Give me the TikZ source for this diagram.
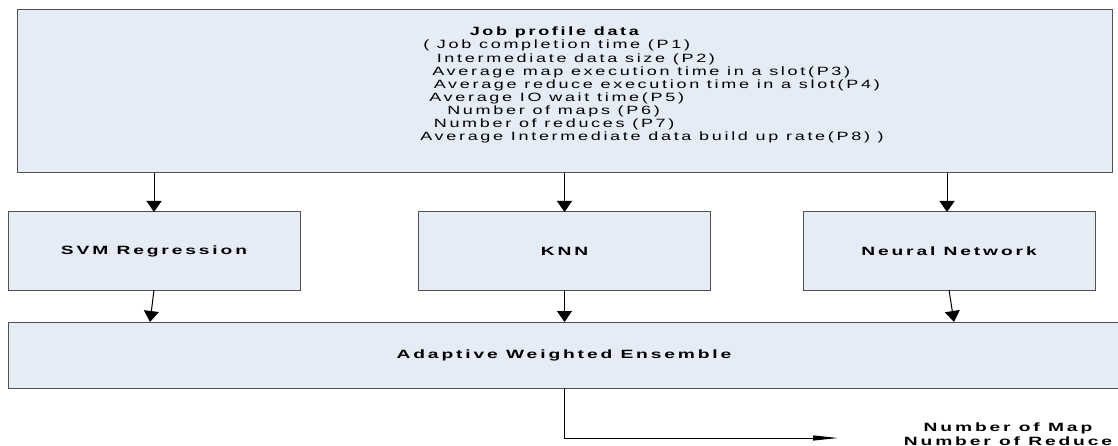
\documentclass[tikz,border=0pt]{standalone}
\usepackage{fontspec}
\setmainfont{Liberation Sans}[LetterSpace=15]
\usetikzlibrary{arrows.meta}
\definecolor{boxfill}{RGB}{230,236,246}
\definecolor{boxline}{RGB}{80,80,80}

\tikzset{
  blockbox/.style={draw=boxline, fill=boxfill, line width=1pt,
    inner sep=0pt, outer sep=0pt, anchor=north west},
  flow/.style={-{Triangle[width=15pt,length=11pt]}, line width=1pt, black},
  outflow/.style={-{Triangle[width=5pt,length=25pt]}, line width=1pt, black},
  txt/.style={inner sep=0pt, xscale=1.5, transform shape,
    font=\fontsize{12}{13.1}\selectfont},
  boldtxt/.style={inner sep=0pt, align=center, xscale=1.6, transform shape,
    font=\fontsize{12}{14}\selectfont\bfseries}
}

\begin{document}
\begin{tikzpicture}[x=1pt, y=-1pt]
  \useasboundingbox (0,0) rectangle (1118,446);

  % input box with the job profile parameters
  \node[blockbox, minimum width=1095pt, minimum height=163pt] (job) at (17,10) {};
  \node[txt, align=left, anchor=north west] (jobtext) at (420,27) {%
    \hspace*{33pt}\textbf{Job profile data}\\
    \hspace*{2pt}( Job completion time (P1)\\
    \hspace*{11pt}Intermediate data size (P2)\\
    \hspace*{8pt}Average map execution time in a slot(P3)\\
    \hspace*{9pt}Average reduce execution time in a slot(P4)\\
    \hspace*{6pt}Average IO wait time(P5)\\
    \hspace*{18pt}Number of maps (P6)\\
    \hspace*{9pt}Number of reduces (P7)\\
    Average Intermediate data build up rate(P8) )};

  % three regression models
  \node[blockbox, minimum width=292pt, minimum height=78pt] (svm) at (8,212) {};
  \node[boldtxt] (svmtext) at (svm.center) {SVM Regression};
  \node[blockbox, minimum width=292pt, minimum height=78pt] (knn) at (418.5,212) {};
  \node[boldtxt] (knntext) at (knn.center) {KNN};
  \node[blockbox, minimum width=292pt, minimum height=78pt] (nn) at (803,212) {};
  \node[boldtxt] (nntext) at (nn.center) {Neural Network};

  % ensemble combining the three models
  \node[blockbox, minimum width=1112pt, minimum height=66pt] (ens) at (8,322) {};
  \node[boldtxt] (enstext) at (ens.center) {Adaptive Weighted Ensemble};

  % prediction output
  \node[boldtxt] (out) at (1008,434) {Number of Map\\Number of Reduce};
  \coordinate (outend) at (838,438);

  % connectors
  \draw[flow] (svm.north |- job.south) -- (svm.north);
  \draw[flow] (knn.north |- job.south) -- (knn.north);
  \draw[flow] ([xshift=-2pt]nn.north |- job.south) -- ([xshift=-2pt]nn.north);
  \draw[flow] (svm.south) -- ([xshift=-4pt]svm.south |- ens.north);
  \draw[flow] (knn.south) -- (knn.south |- ens.north);
  \draw[flow] (nn.south) -- ([xshift=5pt]nn.south |- ens.north);
  \draw[outflow] (ens.south) |- (outend);
\end{tikzpicture}
\end{document}
